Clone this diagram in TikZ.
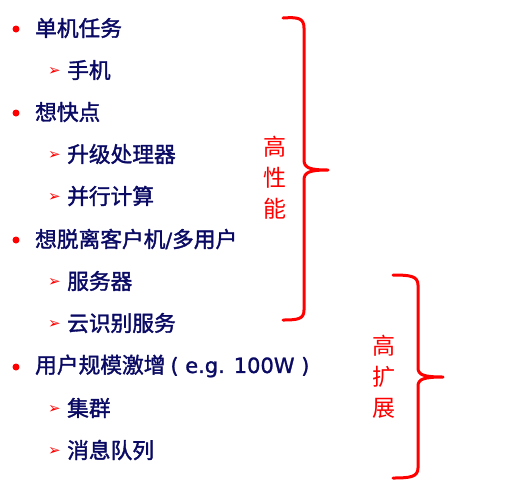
\documentclass[tikz,border=0pt]{standalone}
\usepackage{fontspec}
\setmainfont[FakeBold=1.6]{Noto Sans CJK SC}
\newfontfamily\symfont{DejaVu Sans}
\newfontfamily\latfont[FakeBold=1.2]{DejaVu Sans}
\newfontfamily\labfont{Noto Sans CJK SC}
\definecolor{navy}{RGB}{10,10,100}
\definecolor{bred}{RGB}{255,0,0}
\tikzset{
  item/.style={anchor=west, inner sep=0pt, text=navy, font=\fontsize{21.7}{26}\selectfont},
  sub/.style={anchor=west, inner sep=0pt, text=bred, font=\symfont\fontsize{15}{17}\selectfont},
  dot/.style={circle, fill=bred, minimum size=7pt, inner sep=0pt},
  brace/.style={draw=bred, line width=3pt, line cap=round, line join=round},
  blabel/.style={text=bred, inner sep=0pt, font=\labfont\fontsize{23}{29}\selectfont, align=center}
}
\begin{document}
\begin{tikzpicture}[x=1pt,y=-1pt]
\useasboundingbox (0,0) rectangle (530,483);
% level 1
\node[dot] (d1) at (16,29) {};
\node[item] (t1) at (35,28) {单机任务};
\node[sub] (a1) at (48,71) {➢};
\node[item] (t2) at (67,70) {手机};
\node[dot] (d2) at (16,113) {};
\node[item] (t3) at (35,112) {想快点};
\node[sub] (a3) at (48,155) {➢};
\node[item] (t4) at (67,154) {升级处理器};
\node[sub] (a4) at (48,197) {➢};
\node[item] (t5) at (67,196) {并行计算};
\node[dot] (d3) at (16,240) {};
\node[item] (t6) at (35,239) {想脱离客户机{\latfont\fontsize{20}{24}\selectfont/}多用户};
\node[sub] (a6) at (48,282) {➢};
\node[item] (t7) at (67,281) {服务器};
\node[sub] (a7) at (48,324) {➢};
\node[item] (t8) at (67,323) {云识别服务};
\node[dot] (d4) at (16,367) {};
\node[item] (t9) at (35,366) {用户规模激增{\latfont\fontsize{21}{25}\selectfont\kern5pt( e.g. 100W )}};
\node[sub] (a9) at (48,409) {➢};
\node[item] (t10) at (67,408) {集群};
\node[sub] (a10) at (48,451) {➢};
\node[item] (t11) at (67,450) {消息队列};
% brace 1
\draw[brace] (283,18) .. controls (298,17) and (304,18) .. (304,28)
  -- (304,160) .. controls (304,168) and (310,170) .. (328,170)
  .. controls (310,170) and (304,172) .. (304,180)
  -- (304,310) .. controls (304,319) and (298,320) .. (283,320);
\node[blabel] (l1) at (275,178) {高\\[2pt]性\\[2pt]能};
% brace 2
\draw[brace] (393,275) .. controls (410,275) and (418,276) .. (418,285)
  -- (418,368) .. controls (418,375) and (424,377) .. (443,377)
  .. controls (424,377) and (418,379) .. (418,386)
  -- (418,468) .. controls (418,477) and (410,478) .. (393,478);
\node[blabel] (l2) at (384,377) {高\\[2pt]扩\\[2pt]展};
\end{tikzpicture}
\end{document}
